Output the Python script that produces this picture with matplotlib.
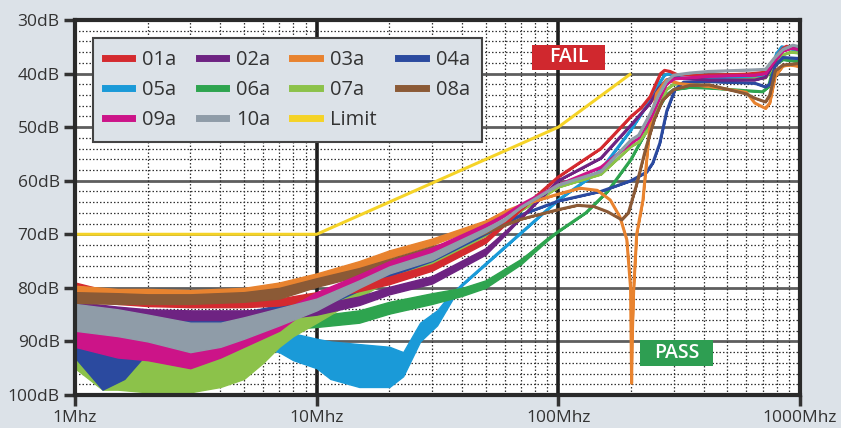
import numpy as np
import matplotlib
matplotlib.use("Agg")
import matplotlib.pyplot as plt
from matplotlib.lines import Line2D
from matplotlib.patches import Rectangle
from matplotlib.ticker import FixedLocator, NullFormatter

plt.rcParams['font.family'] = ['Open Sans', 'DejaVu Sans']

# ---------------- data (MHz, dB): lo/hi = band of the noisy trace ----------------
f_01a = [1, 1.5, 2, 3, 5, 7, 10, 15, 20, 30, 50, 60, 70, 100, 150, 200, 220, 240, 255, 265, 275, 290, 310, 400, 600, 700, 740, 800, 850, 880, 930, 1000]
lo_01a = [79.0, 81.0, 81.8, 82.2, 82.2, 82.0, 80.8, 79.2, 77.9, 75.6, 70.6, 67.8, 65.4, 59.3, 54.0, 48.0, 46.4, 44.3, 41.6, 40.0, 39.4, 39.6, 40.2, 40.3, 40.1, 39.8, 39.0, 36.8, 35.3, 34.9, 35.1, 35.5]
hi_01a = [81.5, 83.0, 83.4, 83.6, 83.6, 83.3, 82.3, 80.6, 79.3, 76.8, 71.6, 68.3, 65.4, 59.3, 54.0, 48.0, 46.4, 44.3, 41.6, 40.0, 39.4, 39.6, 40.2, 40.3, 40.1, 39.8, 39.0, 36.8, 35.3, 34.9, 35.1, 35.5]

f_02a = [1, 1.5, 2, 3, 5, 7, 10, 15, 20, 30, 50, 60, 70, 100, 150, 200, 240, 260, 280, 300, 420, 650, 720, 780, 850, 920, 1000]
lo_02a = [82.6, 83.5, 84.0, 84.2, 84.2, 84.0, 83.2, 81.6, 79.8, 77.8, 72.6, 69.5, 67.0, 60.0, 55.8, 49.6, 45.5, 42.8, 41.2, 40.8, 41.2, 41.2, 40.7, 38.0, 35.5, 35.0, 35.6]
hi_02a = [84.6, 85.5, 86.0, 86.0, 86.0, 85.8, 85.0, 83.2, 81.2, 79.2, 73.8, 70.2, 67.0, 60.0, 55.8, 49.6, 45.5, 42.8, 41.2, 40.8, 41.2, 41.2, 40.7, 38.0, 35.5, 35.0, 35.6]

f_03a = [1, 1.5, 2, 3, 5, 7, 10, 15, 20, 30, 50, 60, 70, 100, 123, 145, 164, 180, 192, 199, 201, 202, 205, 211, 224, 239, 255, 280, 320, 420, 600, 650, 720, 750, 790, 850, 910, 1000]
lo_03a = [79.6, 80.2, 80.2, 80.4, 80.0, 79.0, 77.3, 75.0, 73.0, 70.8, 67.4, 65.6, 64.6, 62.5, 61.4, 61.8, 63.6, 66.8, 71.0, 80.0, 97.8, 90.0, 80.4, 70.0, 63.6, 50.0, 43.7, 41.2, 41.9, 42.4, 43.5, 45.5, 46.5, 45.5, 40.5, 38.6, 38.4, 38.7]
hi_03a = [81.6, 82.0, 82.0, 82.0, 81.8, 81.0, 79.0, 76.5, 74.4, 72.0, 68.2, 66.0, 64.6, 62.5, 61.4, 61.8, 63.6, 66.8, 71.0, 80.0, 97.8, 90.0, 80.4, 70.0, 63.6, 50.0, 43.7, 41.2, 41.9, 42.4, 43.5, 45.5, 46.5, 45.5, 40.5, 38.6, 38.4, 38.7]

f_04a = [1, 1.3, 1.6, 2, 3, 5, 7, 10, 15, 20, 30, 50, 60, 70, 100, 150, 200, 232, 246, 263, 281, 304, 330, 420, 650, 720, 750, 790, 850, 1000]
lo_04a = [88.0, 89.0, 89.0, 87.0, 86.0, 84.5, 83.2, 81.8, 79.0, 76.6, 73.8, 69.0, 67.8, 66.4, 63.8, 62.0, 60.0, 58.4, 56.7, 53.0, 47.0, 43.0, 41.6, 41.5, 41.8, 42.5, 42.0, 38.5, 37.0, 37.2]
hi_04a = [93.0, 99.0, 97.0, 92.0, 90.0, 88.0, 86.0, 84.0, 80.5, 77.8, 75.0, 70.0, 68.3, 66.4, 63.8, 62.0, 60.0, 58.4, 56.7, 53.0, 47.0, 43.0, 41.6, 41.5, 41.8, 42.5, 42.0, 38.5, 37.0, 37.2]

f_05a = [1, 2, 3, 5, 7, 8, 10, 11.4, 15, 20, 22.8, 26.8, 31.5, 36.6, 40, 100, 150, 200, 240, 260, 275, 290, 320, 420, 600, 720, 760, 800, 841, 900, 1000]
lo_05a = [85.0, 85.5, 86.0, 86.5, 87.5, 88.5, 89.5, 90.0, 90.5, 91.0, 92.0, 86.5, 84.2, 80.6, 79.5, 63.6, 58.0, 50.5, 45.0, 42.0, 40.3, 40.0, 40.8, 41.0, 40.7, 40.4, 39.0, 36.3, 35.0, 35.3, 35.9]
hi_05a = [89.0, 90.0, 90.0, 90.5, 92.0, 93.5, 95.0, 97.0, 98.5, 98.5, 96.5, 90.0, 87.0, 82.0, 79.5, 63.6, 58.0, 50.5, 45.0, 42.0, 40.3, 40.0, 40.8, 41.0, 40.7, 40.4, 39.0, 36.3, 35.0, 35.3, 35.9]

f_06a = [1, 2, 3, 5, 7, 10, 15, 20, 30, 40, 50, 70, 90, 100, 130, 160, 200, 230, 260, 280, 300, 350, 420, 600, 700, 740, 780, 850, 1000]
lo_06a = [84.5, 85.0, 85.0, 85.2, 85.7, 85.2, 84.2, 82.6, 81.0, 80.0, 78.6, 74.6, 70.8, 69.5, 66.0, 62.0, 56.0, 51.0, 46.5, 44.0, 43.0, 42.6, 42.7, 43.2, 43.4, 42.5, 38.5, 37.4, 37.8]
hi_06a = [87.5, 87.5, 87.0, 87.2, 87.8, 87.3, 86.5, 84.8, 83.0, 81.5, 80.0, 75.6, 71.2, 69.5, 66.0, 62.0, 56.0, 51.0, 46.5, 44.0, 43.0, 42.6, 42.7, 43.2, 43.4, 42.5, 38.5, 37.4, 37.8]

f_07a = [1, 1.3, 1.5, 2, 3, 4, 5, 6, 7, 8, 10, 15, 20, 30, 50, 60, 70, 100, 150, 200, 215, 240, 260, 280, 300, 400, 650, 720, 780, 850, 920, 1000]
lo_07a = [89.0, 90.0, 91.0, 92.0, 92.0, 91.0, 90.0, 88.5, 87.0, 85.5, 84.2, 80.0, 77.0, 74.6, 69.6, 67.5, 65.6, 61.2, 58.8, 53.6, 52.8, 50.0, 46.5, 43.0, 42.0, 41.5, 41.0, 40.8, 38.5, 36.5, 36.0, 36.2]
hi_07a = [95.0, 99.0, 99.0, 99.5, 99.5, 98.5, 97.0, 94.0, 91.0, 89.0, 86.5, 81.8, 78.5, 75.8, 70.3, 68.0, 65.6, 61.2, 58.8, 53.6, 52.8, 50.0, 46.5, 43.0, 42.0, 41.5, 41.0, 40.8, 38.5, 36.5, 36.0, 36.2]

f_08a = [1, 1.5, 2, 3, 5, 7, 10, 15, 20, 30, 40, 50, 70, 100, 120, 140, 160, 183, 195, 210, 230, 250, 270, 300, 350, 420, 600, 650, 720, 750, 790, 850, 1000]
lo_08a = [80.8, 81.0, 81.2, 81.2, 80.8, 80.0, 78.2, 76.3, 74.6, 72.2, 70.8, 69.4, 67.2, 65.4, 64.6, 64.8, 65.8, 67.3, 66.0, 61.0, 54.0, 48.5, 45.0, 43.0, 42.2, 42.1, 43.8, 44.6, 45.3, 44.0, 39.5, 38.4, 38.1]
hi_08a = [82.8, 83.0, 83.0, 83.0, 82.6, 82.0, 79.8, 77.8, 76.0, 73.4, 71.4, 69.8, 67.2, 65.4, 64.6, 64.8, 65.8, 67.3, 66.0, 61.0, 54.0, 48.5, 45.0, 43.0, 42.2, 42.1, 43.8, 44.6, 45.3, 44.0, 39.5, 38.4, 38.1]

f_09a = [1, 1.5, 2, 3, 4, 5, 7, 8, 10, 15, 20, 30, 50, 60, 70, 100, 150, 200, 215, 240, 260, 280, 300, 420, 650, 720, 780, 850, 920, 1000]
lo_09a = [86.0, 87.0, 87.5, 88.0, 87.5, 86.5, 84.5, 83.2, 80.8, 77.5, 75.0, 72.5, 68.0, 66.3, 64.5, 60.8, 57.5, 53.0, 52.0, 48.5, 45.0, 42.0, 41.0, 40.5, 40.3, 40.0, 37.8, 35.8, 35.3, 35.5]
hi_09a = [91.0, 93.0, 93.5, 95.0, 93.0, 91.0, 88.0, 86.0, 82.6, 79.0, 76.5, 73.8, 68.8, 66.6, 64.5, 60.8, 57.5, 53.0, 52.0, 48.5, 45.0, 42.0, 41.0, 40.5, 40.3, 40.0, 37.8, 35.8, 35.3, 35.5]

f_10a = [1, 1.5, 2, 3, 4, 5, 7, 10, 15, 20, 30, 50, 60, 70, 100, 150, 200, 215, 240, 260, 280, 300, 350, 420, 650, 720, 780, 850, 934, 1000]
lo_10a = [83.0, 84.0, 85.0, 86.5, 86.5, 85.5, 83.8, 82.0, 78.6, 76.0, 73.5, 68.8, 67.0, 65.0, 60.8, 58.3, 52.4, 51.5, 47.5, 44.0, 41.5, 40.3, 39.9, 39.6, 39.3, 39.2, 37.2, 35.5, 34.7, 35.0]
hi_10a = [88.0, 89.0, 90.0, 92.0, 91.0, 89.5, 87.0, 84.2, 80.0, 77.3, 74.8, 69.6, 67.5, 65.0, 60.8, 58.3, 52.4, 51.5, 47.5, 44.0, 41.5, 40.3, 39.9, 39.6, 39.3, 39.2, 37.2, 35.5, 34.7, 35.0]

f_limit = [1, 10, 100, 200]
v_limit = [70, 70, 50, 40]

series_names = ['01a', '02a', '03a', '04a', '05a', '06a', '07a', '08a', '09a', '10a']
series_colors = ['#d42a2f', '#6e2382', '#e8832f', '#2b4a9f', '#1a9ad8',
                 '#2ea44f', '#8cc24a', '#8b5a36', '#cc1488', '#8f9ca8']
series_layer = [3.4, 3.5, 3.6, 3.3, 3.0, 3.1, 3.2, 3.7, 3.8, 3.9]
limit_color = '#f5d327'

series_data = [(f_01a, lo_01a, hi_01a), (f_02a, lo_02a, hi_02a), (f_03a, lo_03a, hi_03a),
               (f_04a, lo_04a, hi_04a), (f_05a, lo_05a, hi_05a), (f_06a, lo_06a, hi_06a),
               (f_07a, lo_07a, hi_07a), (f_08a, lo_08a, hi_08a), (f_09a, lo_09a, hi_09a),
               (f_10a, lo_10a, hi_10a)]

y_ticks = [30, 40, 50, 60, 70, 80, 90, 100]
x_ticks = [1, 10, 100, 1000]
x_labels = ['1Mhz', '10Mhz', '100Mhz', '1000Mhz']

# ---------------- figure ----------------
bg = '#dce2e8'
fig = plt.figure(figsize=(8.41, 4.28), dpi=100, facecolor=bg)
ax = fig.add_axes([75/841, 1-395/428, 725/841, 375/428])
ax.set_facecolor('white')
ax.set_xscale('log')
ax.set_xlim(1, 1000)
ax.set_ylim(100, 30)

# grid
minor_x = [m * 10**d for d in range(3) for m in range(2, 10)]
ax.xaxis.set_minor_locator(FixedLocator(minor_x))
ax.xaxis.set_minor_formatter(NullFormatter())
ax.yaxis.set_minor_locator(FixedLocator([v for v in range(32, 100, 2) if v % 10]))
ax.grid(which='minor', axis='both', color='#333333', lw=0.9, ls=(0, (1.2, 1.6)), zorder=0)
for v in y_ticks[1:-1]:
    ax.axhline(v, color='#5e5e5e', lw=2.0, zorder=0.5)
for v in x_ticks[1:-1]:
    ax.axvline(v, color='#1e1e1e', lw=2.6, zorder=0.5)

ax.plot(f_limit, v_limit, color=limit_color, lw=2.2, zorder=2, solid_capstyle='butt')

for (f, lo, hi), c, z in zip(series_data, series_colors, series_layer):
    lo = np.array(lo); hi = np.array(hi)
    ax.fill_between(f, lo, hi, color=c, lw=1.0, edgecolor=c, zorder=z)
    ax.plot(f, (lo + hi) / 2, color=c, lw=2.2, zorder=z + 0.05,
            solid_joinstyle='round', solid_capstyle='round')

# ticks & spines
ax.set_xticks(x_ticks)
ax.set_xticklabels(x_labels)
ax.set_yticks(y_ticks)
ax.set_yticklabels([f'{v}dB' for v in y_ticks])
ax.tick_params(which='major', direction='out', length=8, width=2.5, color='#333333',
               labelsize=12.5, labelcolor='#333333', pad=3)
ax.tick_params(which='minor', length=0)
for s in ax.spines.values():
    s.set_linewidth(3)
    s.set_color('#2a2a2a')
    s.set_zorder(6)

# legend
handles = [Line2D([], [], color=c, lw=5) for c in series_colors]
lim_h = Line2D([], [], color=limit_color, lw=5)
order_h = [handles[0], handles[4], handles[8], handles[1], handles[5], handles[9],
           handles[2], handles[6], lim_h, handles[3], handles[7]]
order_l = ['01a', '05a', '09a', '02a', '06a', '10a', '03a', '07a', 'Limit', '04a', '08a']
leg = ax.legend(order_h, order_l, ncol=4, loc='upper left',
                bbox_to_anchor=((93-75)/725, 1-(38-20)/375), borderaxespad=0,
                fontsize=14.5, frameon=True, fancybox=False, framealpha=1,
                facecolor=bg, edgecolor='#444444', handlelength=1.35,
                handletextpad=0.5, columnspacing=1.1, labelspacing=0.5,
                borderpad=0.6)
leg.get_frame().set_linewidth(1.5)
for t in leg.get_texts():
    t.set_color('#333333')
leg.set_zorder(8)

# FAIL / PASS labels
ax.add_patch(Rectangle(((532-75)/725, 1-(70-20)/375), 73/725, 25/375,
                       transform=ax.transAxes, facecolor='#d0282e', edgecolor='none', zorder=9))
ax.text((568.5-75)/725, 1-(57.5-20)/375, 'FAIL', transform=ax.transAxes, ha='center',
        va='center', color='white', fontsize=14, fontweight='semibold', zorder=10)
ax.add_patch(Rectangle(((640-75)/725, 1-(366-20)/375), 73/725, 26/375,
                       transform=ax.transAxes, facecolor='#2e9e52', edgecolor='none', zorder=9))
ax.text((676.5-75)/725, 1-(353-20)/375, 'PASS', transform=ax.transAxes, ha='center',
        va='center', color='white', fontsize=14, fontweight='semibold', zorder=10)

fig.savefig('out.png', dpi=100, facecolor=bg)
